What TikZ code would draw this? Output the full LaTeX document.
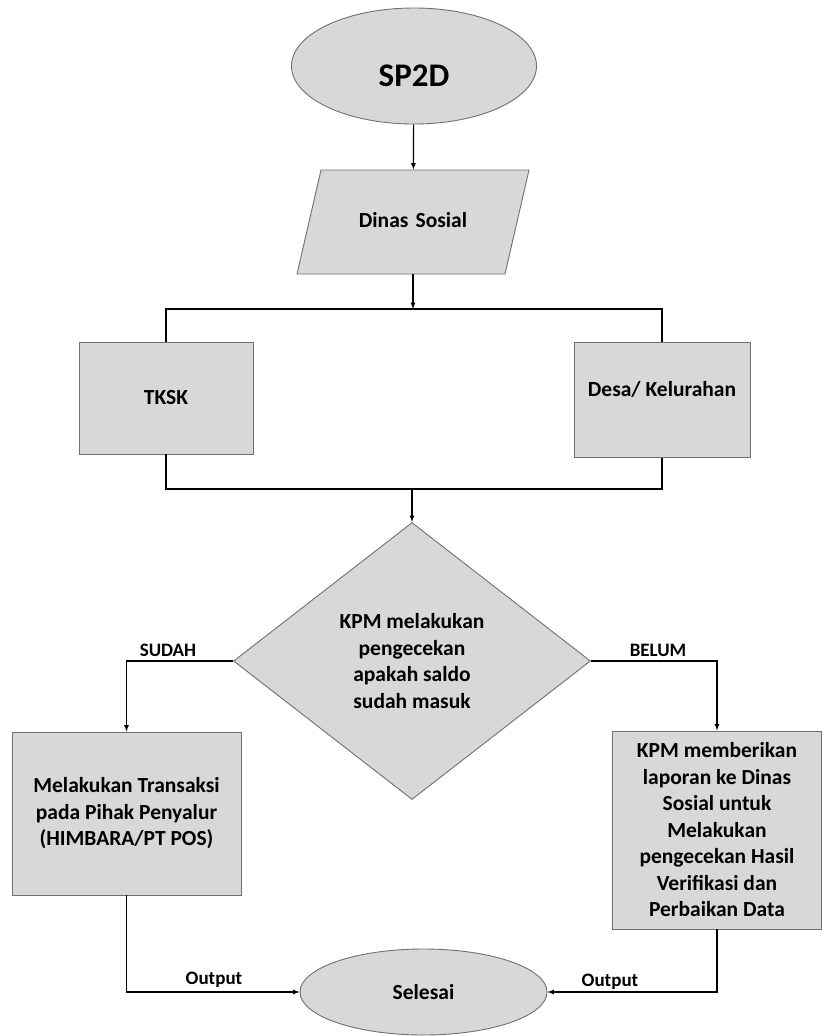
\documentclass[tikz,border=0pt]{standalone}
\usepackage{fontspec}
\setmainfont{Carlito}
\usepackage{tikz}
\usetikzlibrary{arrows,shapes.geometric}
\definecolor{boxgray}{RGB}{216,216,216}
\definecolor{rimgray}{RGB}{110,112,118}

\begin{document}
\begin{tikzpicture}[x=1pt,y=-1pt]
        \tikzset{txt/.style = {font=\bfseries\fontsize{21.5}{26.5}\selectfont, align=center}}
        \tikzset{terminal/.style = {shape=ellipse, draw=rimgray, fill=boxgray, line width=0.9pt, inner sep=0pt, txt}}
        \tikzset{io/.style = {shape=trapezium, trapezium left angle=77, trapezium right angle=103,
                draw=rimgray, fill=boxgray, line width=0.9pt, txt,
                text width=110, text height=15, text depth=5, inner xsep=37, inner ysep=42}}
        \tikzset{proc/.style = {shape=rectangle, draw=rimgray, fill=boxgray, line width=0.9pt, txt}}
        \tikzset{decide/.style = {shape=diamond, draw=rimgray, fill=boxgray, line width=0.9pt, inner sep=0pt, txt}}
        \tikzset{lbl/.style = {font=\bfseries\fontsize{19}{22}\selectfont}}
        \tikzset{edge/.style = {-, line width=1.2pt}}
        \tikzset{arr/.style = {-latex, line width=1.2pt}}

        \useasboundingbox (0,0) rectangle (823,1036);

        \node[terminal, minimum width=245, minimum height=116, text height=40, text depth=0,
              font=\bfseries\fontsize{33}{38}\selectfont] (sp) at (414,66) {SP2D};
        \node[io] (dinsos) at (413,222) {Dinas Sosial};

        \node[proc, minimum width=174, minimum height=112] (tksk) at (166,398) {TKSK};
        \node[proc, minimum width=176, minimum height=115, text height=15, text depth=23] (desa) at (662,400) {Desa/ Kelurahan};

        \node[decide, minimum width=357, minimum height=277] (cek) at (412,661)
              {KPM melakukan\\pengecekan\\apakah saldo\\sudah masuk};

        \node[proc, minimum width=229, minimum height=163] (trans) at (126.5,813.5)
              {Melakukan Transaksi\\pada Pihak Penyalur\\(HIMBARA/PT POS)};
        \node[proc, minimum width=209, minimum height=198] (lapor) at (717,830)
              {KPM memberikan\\laporan ke Dinas\\Sosial untuk\\Melakukan\\pengecekan Hasil\\Verifikasi dan\\Perbaikan Data};

        \node[terminal, minimum width=247, minimum height=86] (selesai) at (423.5,992) {Selesai};

        \coordinate (split) at (413,309);
        \coordinate (join) at (412,489);

        \draw[arr] (sp) to (dinsos);
        \draw[arr] (dinsos) to (split);
        \draw[edge] (tksk) |- (split);
        \draw[edge] (split) -| (desa);

        \draw[edge] (tksk) |- (join);
        \draw[edge] (desa) |- (join);
        \draw[arr] (join) to (cek);

        \draw[arr] (cek) -| (trans);
        \draw[arr] (cek) -| (lapor);
        \node[lbl] (sudah) at (168,650) {SUDAH};
        \node[lbl] (belum) at (658,650) {BELUM};

        \draw[arr] (trans) |- (selesai);
        \draw[arr] (lapor) |- (selesai);
        \node[lbl] (out1) at (214,980) {Output};
        \node[lbl] (out2) at (610,982) {Output};
    \end{tikzpicture}
\end{document}
